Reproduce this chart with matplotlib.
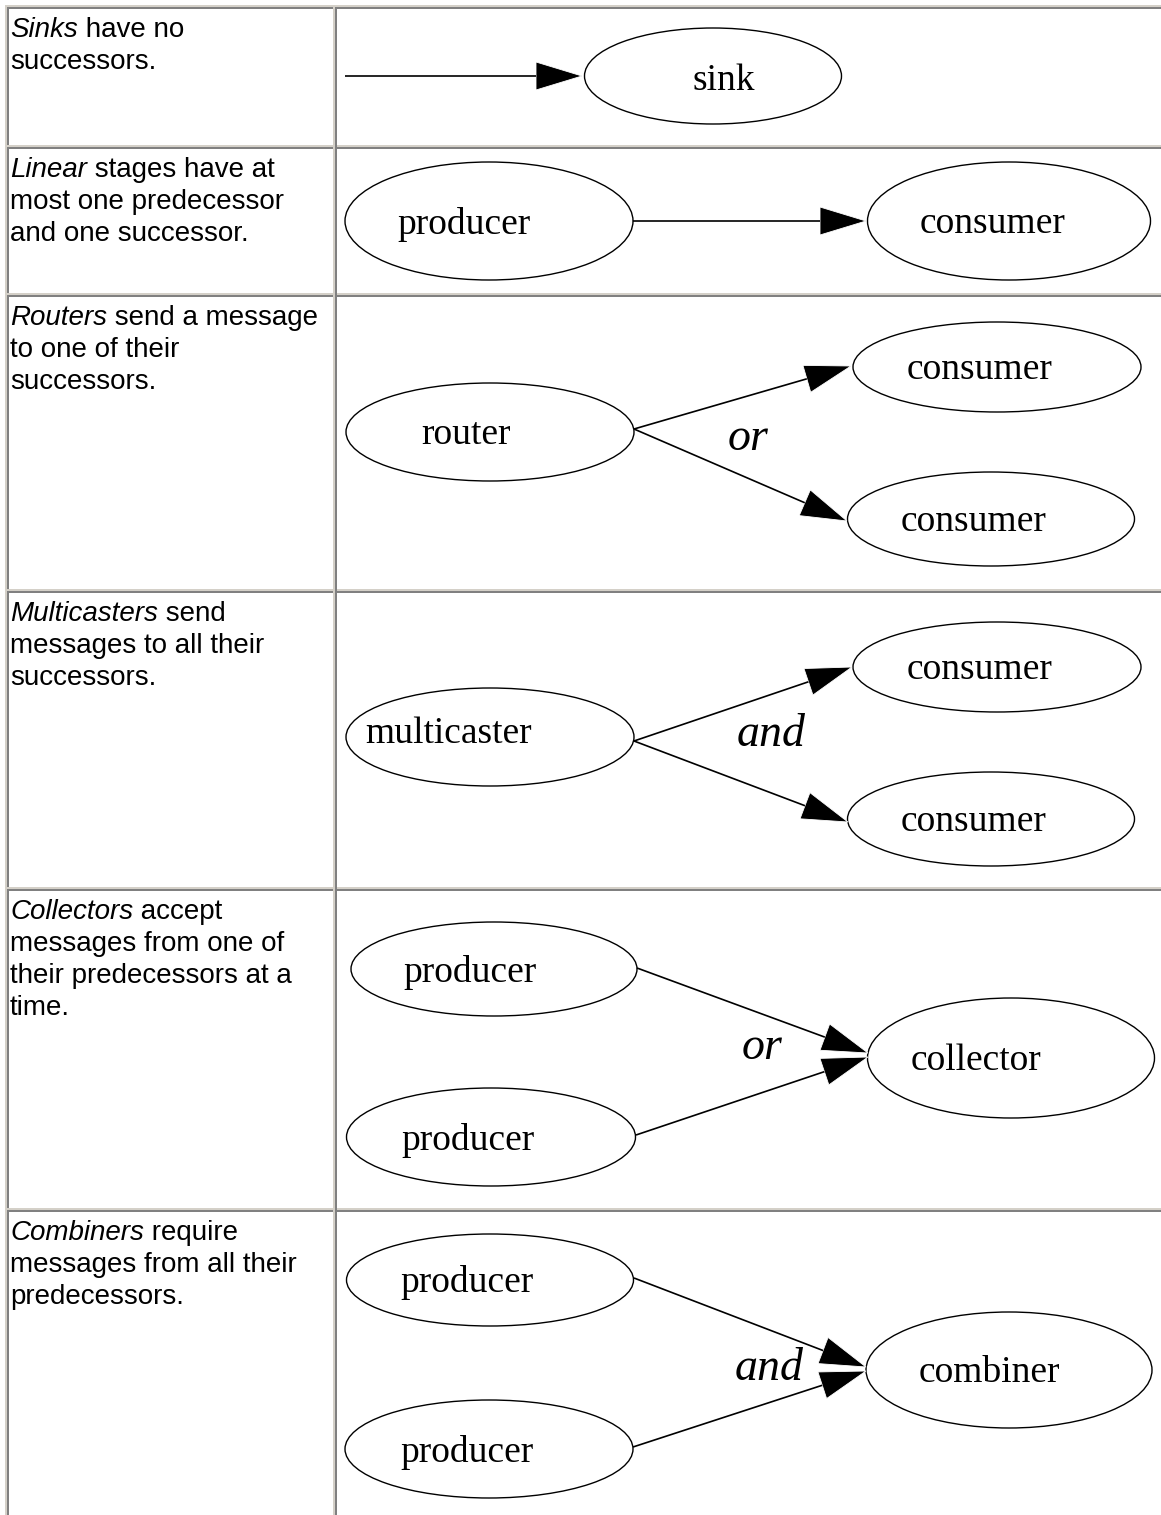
import matplotlib.pyplot as plt
from matplotlib.patches import Ellipse, Polygon, Rectangle
import numpy as np

W, H = 1161, 1515

# left column: (italic word, rest of first line, following lines)
stage_names = ["Sinks", "Linear", "Routers", "Multicasters", "Collectors", "Combiners"]
stage_lines = [
    [" have no", "successors."],
    [" stages have at", "most one predecessor", "and one successor."],
    [" send a message", "to one of their", "successors."],
    [" send", "messages to all their", "successors."],
    [" accept", "messages from one of", "their predecessors at a", "time."],
    [" require", "messages from all their", "predecessors."],
]

# right column: node labels per row and the word written between the edges
node_labels = [
    ["sink"],
    ["producer", "consumer"],
    ["router", "consumer", "consumer"],
    ["multicaster", "consumer", "consumer"],
    ["producer", "producer", "collector"],
    ["producer", "producer", "combiner"],
]
edge_words = ["", "", "or", "and", "or", "and"]

# ---- layout (pixels) ----
row_tops = [5, 145, 293, 589, 887, 1208]
col_split = 333
ellipses = [
    [(713, 76, 257, 96)],
    [(489, 221, 288, 118), (1009, 221, 283, 118)],
    [(490, 432, 288, 98), (997, 367, 288, 90), (991, 519, 287, 94)],
    [(490, 737, 288, 98), (997, 667, 288, 90), (991, 819, 287, 94)],
    [(494, 969, 286, 94), (491, 1137, 289, 98), (1011, 1058, 287, 120)],
    [(490, 1280, 287, 92), (489, 1449, 288, 98), (1009, 1370, 286, 116)],
]
label_pos = [
    [(724, 78)],
    [(464, 221), (993, 221)],
    [(466, 432), (980, 367), (974, 519)],
    [(449, 731), (980, 667), (974, 819)],
    [(470, 969), (468, 1137), (976, 1058)],
    [(467, 1280), (467, 1449), (989, 1370)],
]
edge_pts = [
    [((345, 76), (582, 76))],
    [((633, 221), (866, 221))],
    [((634, 429), (851, 366)), ((634, 429), (847, 521))],
    [((634, 741), (852, 667)), ((634, 741), (848, 822))],
    [((637, 968), (868, 1053)), ((636, 1135), (868, 1057))],
    [((634, 1278), (866, 1367)), ((633, 1447), (866, 1371))],
]
word_pos = [None, None, (748, 437), (771, 733), (762, 1046), (769, 1367)]

LIGHT = "#d4d0c8"
DARK = "#808080"
SANS = "Liberation Sans"
SERIF = "Liberation Serif"


def draw_borders(ax):
    # outer top and left edges
    ax.add_patch(Rectangle((5, 5), W, 2, color=LIGHT, lw=0))
    ax.add_patch(Rectangle((5, 5), 2, H, color=LIGHT, lw=0))
    for top in row_tops:
        ax.add_patch(Rectangle((7, top), W, 2, color=LIGHT, lw=0))
        ax.add_patch(Rectangle((7, top + 2), W, 2, color=DARK, lw=0))
    ax.add_patch(Rectangle((7, 7), 2, H, color=DARK, lw=0))
    ax.add_patch(Rectangle((col_split, 7), 2, H, color=LIGHT, lw=0))
    ax.add_patch(Rectangle((col_split + 2, 7), 2, H, color=DARK, lw=0))
    # light segments over the verticals at the joints
    for top in row_tops[1:]:
        ax.add_patch(Rectangle((7, top), col_split - 7, 2, color=LIGHT, lw=0))


def draw_arrow(ax, p0, p1, head_len=46, head_w=14):
    p0, p1 = np.array(p0, float), np.array(p1, float)
    d = (p1 - p0) / np.linalg.norm(p1 - p0)
    n = np.array([-d[1], d[0]])
    base = p1 - d * head_len
    ax.plot([p0[0], base[0]], [p0[1], base[1]], color="black", lw=1.2,
            solid_capstyle="butt")
    tri = [p1, base + n * head_w, base - n * head_w]
    ax.add_patch(Polygon(tri, closed=True, facecolor="black", edgecolor="white",
                         lw=0.6))


def draw_row_text(ax, i):
    y = row_tops[i] + 32
    first = ax.text(10, y, stage_names[i], fontsize=20, family=SANS,
                    style="italic", va="baseline", ha="left")
    ax.annotate(stage_lines[i][0], xy=(1, 0), xycoords=first, fontsize=20,
                family=SANS, va="bottom", ha="left")
    for k, line in enumerate(stage_lines[i][1:], start=1):
        ax.text(10, y + 32 * k, line, fontsize=20, family=SANS,
                va="baseline", ha="left")


def draw_graph(ax, i):
    for (cx, cy, w, h) in ellipses[i]:
        ax.add_patch(Ellipse((cx, cy), w, h, facecolor="none",
                             edgecolor="black", lw=1.0))
    for label, (x, y) in zip(node_labels[i], label_pos[i]):
        ax.text(x, y + 3, label, fontsize=27, family=SERIF, ha="center",
                va="center")
    for (p0, p1) in edge_pts[i]:
        draw_arrow(ax, p0, p1)
    if edge_words[i]:
        x, y = word_pos[i]
        ax.text(x, y + 2, edge_words[i], fontsize=33, family=SERIF,
                style="italic", ha="center", va="center")


fig = plt.figure(figsize=(W / 100, H / 100), dpi=100)
ax = fig.add_axes([0, 0, 1, 1])
ax.set_xlim(0, W)
ax.set_ylim(H, 0)
ax.axis("off")

draw_borders(ax)
for i in range(len(stage_names)):
    draw_row_text(ax, i)
    draw_graph(ax, i)

fig.savefig("out.png", dpi=100, facecolor="white")
